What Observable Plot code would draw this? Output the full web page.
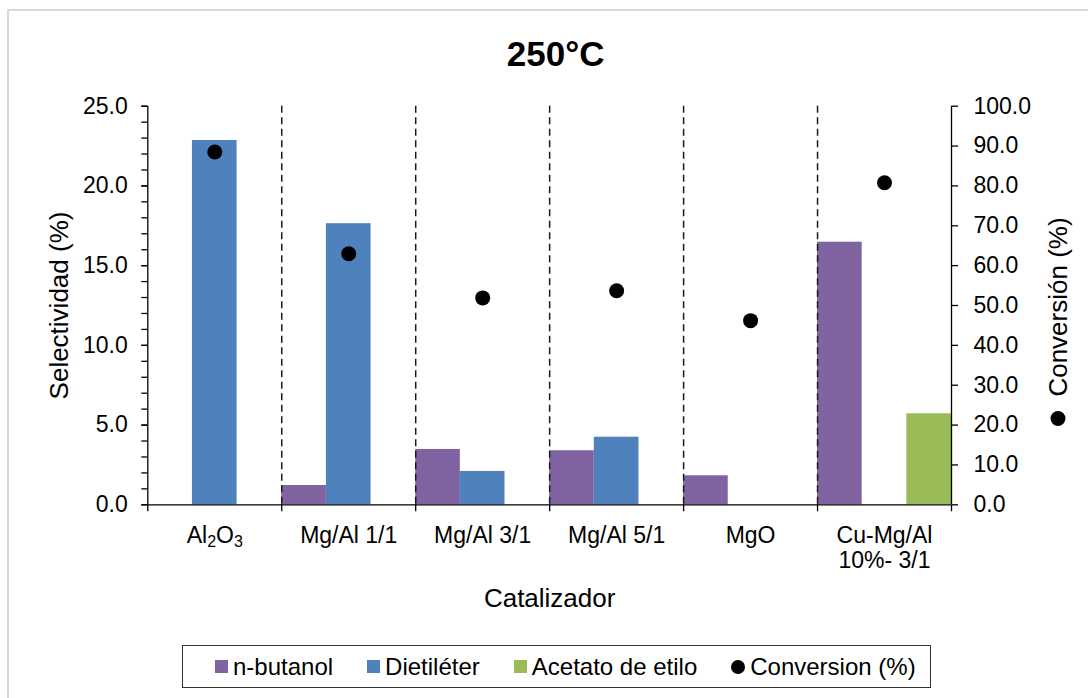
<!DOCTYPE html>
<html>
<head>
<meta charset="utf-8">
<script src="https://cdn.jsdelivr.net/npm/d3@7"></script>
<script src="https://cdn.jsdelivr.net/npm/@observablehq/plot@0.6"></script>
<style>
  html, body { margin: 0; padding: 0; background: #fff; overflow: hidden; }
  #wrap { position: relative; width: 1088px; height: 698px; overflow: hidden;
          font-family: "Liberation Sans", Arial, sans-serif; color: #000; }
  #border { position: absolute; left: 7px; top: 9px; width: 1300px; height: 900px;
            border: 2px solid #d9d9d9; box-sizing: border-box; }
  #chart svg { position: absolute; left: 0; top: 0; }
  #legend { position: absolute; left: 182px; top: 645px; width: 749px; height: 43px;
            border: 1px solid #333; box-sizing: border-box; background: #fff;
            display: flex; align-items: center; padding-left: 32px; font-size: 24px; }
  #legend .item { display: flex; align-items: center; margin-right: 34px; white-space: nowrap; }
  #legend .sw { width: 13px; height: 13px; margin-right: 5px; }
  #legend .dot { width: 14px; height: 14px; border-radius: 50%; margin-right: 5px; background: #000; }
</style>
</head>
<body>
<div id="wrap">
  <div id="border"></div>
  <div id="chart"></div>
  <div id="legend"></div>
</div>
<script>
// ---- data ----
const categories = ["Al2O3", "Mg/Al 1/1", "Mg/Al 3/1", "Mg/Al 5/1", "MgO", "Cu-Mg/Al\n10%- 3/1"];
const seriesNames = ["n-butanol", "Dietiléter", "Acetato de etilo"];
const seriesColors = ["#8064A2", "#4F81BD", "#9BBB59"];
const nButanol     = [0, 1.21, 3.47, 3.39, 1.82, 16.47];
const dietileter   = [22.85, 17.63, 2.09, 4.24, 0, 0];
const acetatoEtilo = [0, 0, 0, 0, 0, 5.71];
const conversion   = [88.5, 63.0, 51.9, 53.7, 46.2, 80.8];
const selTicks  = [0, 5, 10, 15, 20, 25];
const convTicks = [0, 10, 20, 30, 40, 50, 60, 70, 80, 90, 100];
const chartTitle = "250°C";
const xTitle = "Catalizador";
const yTitle = "Selectividad (%)";
const y2Title = "Conversión (%)";
const convLegend = "Conversion (%)";

// ---- derived tables ----
const selMax = selTicks[selTicks.length - 1];
const convMax = convTicks[convTicks.length - 1];
const ratio = convMax / selMax;
const nGroups = seriesNames.length;
const bars = [];
[nButanol, dietileter, acetatoEtilo].forEach((vals, j) =>
  vals.forEach((v, i) => { if (v > 0) bars.push({i, j, series: seriesNames[j], value: v}); }));
const conv = conversion.map((v, i) => ({i, v}));
const nCat = categories.length;

const plot = Plot.plot({
  width: 1088,
  height: 698,
  marginTop: 105.7,
  marginBottom: 193.7,
  marginLeft: 147.3,
  marginRight: 137,
  x: {domain: [0, nCat]},
  y: {domain: [0, selMax]},
  color: {domain: seriesNames, range: seriesColors},
  style: {fontFamily: '"Liberation Sans", Arial, sans-serif', fontSize: "23px", color: "#000",
          background: "transparent", overflow: "visible"},
  marks: [
    Plot.rectY(bars, {x1: d => d.i + d.j / nGroups, x2: d => d.i + (d.j + 1) / nGroups, y: "value", fill: "series"}),
    Plot.ruleX(d3.range(1, nCat), {stroke: "#1a1a1a", strokeWidth: 1.5, strokeDasharray: "7,4.5"}),
    Plot.dot(conv, {x: d => d.i + 0.5, y: d => d.v / ratio, r: 7.5, fill: "#000"}),
    Plot.ruleY([0], {stroke: "#000", strokeWidth: 1.3}),
    Plot.ruleX([0, nCat], {stroke: "#000", strokeWidth: 1.3}),
    Plot.axisY({anchor: "left", ticks: d3.range(0, selMax + 0.5, 1), tickSize: 6, tickFormat: () => "", label: null, strokeWidth: 1.3}),
    Plot.axisY({anchor: "left", ticks: selTicks, tickSize: 6, tickPadding: 14, tickFormat: d => d.toFixed(1), label: null, fontSize: 23, strokeWidth: 1.3}),
    Plot.axisY({anchor: "right", ticks: convTicks.map(v => v / ratio), tickSize: 6, tickPadding: 16,
                tickFormat: d => (d * ratio).toFixed(1), label: null, fontSize: 23, strokeWidth: 1.3}),
    Plot.axisX({anchor: "bottom", ticks: d3.range(0, nCat + 1), tickSize: 7, tickFormat: () => "", label: null, strokeWidth: 1.3}),
    Plot.axisX({anchor: "bottom", ticks: categories.map((c, i) => i + 0.5), tickSize: 0, tickPadding: 20.5,
                tickFormat: d => categories[Math.floor(d)], label: null, fontSize: 23, lineHeight: 1.09}),
    Plot.text([chartTitle], {text: d => d, frameAnchor: "top", lineAnchor: "bottom", dy: -40.7, dx: 6, fontSize: 35, fontWeight: "bold"}),
    Plot.text([xTitle], {text: d => d, frameAnchor: "bottom", lineAnchor: "bottom", dy: 102.4, fontSize: 26}),
    Plot.text([yTitle], {text: d => d, frameAnchor: "left", rotate: -90, textAnchor: "middle", lineAnchor: "bottom", dx: -80, fontSize: 26}),
    Plot.text([y2Title], {text: d => d, frameAnchor: "right", rotate: -90, textAnchor: "middle", lineAnchor: "bottom", dx: 115.7, dy: 1.5, fontSize: 26}),
    Plot.dot([0], {frameAnchor: "right", dx: 106.5, dy: 113, r: 7.5, fill: "#000"})
  ]
});

// subscripts for Al2O3
const ns = "http://www.w3.org/2000/svg";
plot.querySelectorAll("text, tspan").forEach(t => {
  if (t.childElementCount === 0 && t.textContent === "Al2O3") {
    t.textContent = "";
    [["Al", 0, null], ["2", 4, 16], ["O", -4, null], ["3", 4, 16]].forEach(([s, dy, fs]) => {
      const ts = document.createElementNS(ns, "tspan");
      ts.textContent = s;
      if (dy) ts.setAttribute("dy", dy);
      if (fs) ts.setAttribute("font-size", fs);
      t.appendChild(ts);
    });
  }
});
document.getElementById("chart").appendChild(plot);

// legend
const legend = document.getElementById("legend");
seriesNames.forEach((name, j) => {
  const item = document.createElement("div");
  item.className = "item";
  const sw = document.createElement("span");
  sw.className = "sw";
  sw.style.background = seriesColors[j];
  const lab = document.createElement("span");
  lab.textContent = name;
  item.append(sw, lab);
  legend.appendChild(item);
});
{
  const item = document.createElement("div");
  item.className = "item";
  const d = document.createElement("span");
  d.className = "dot";
  const lab = document.createElement("span");
  lab.textContent = convLegend;
  item.append(d, lab);
  legend.appendChild(item);
}
</script>
</body>
</html>
